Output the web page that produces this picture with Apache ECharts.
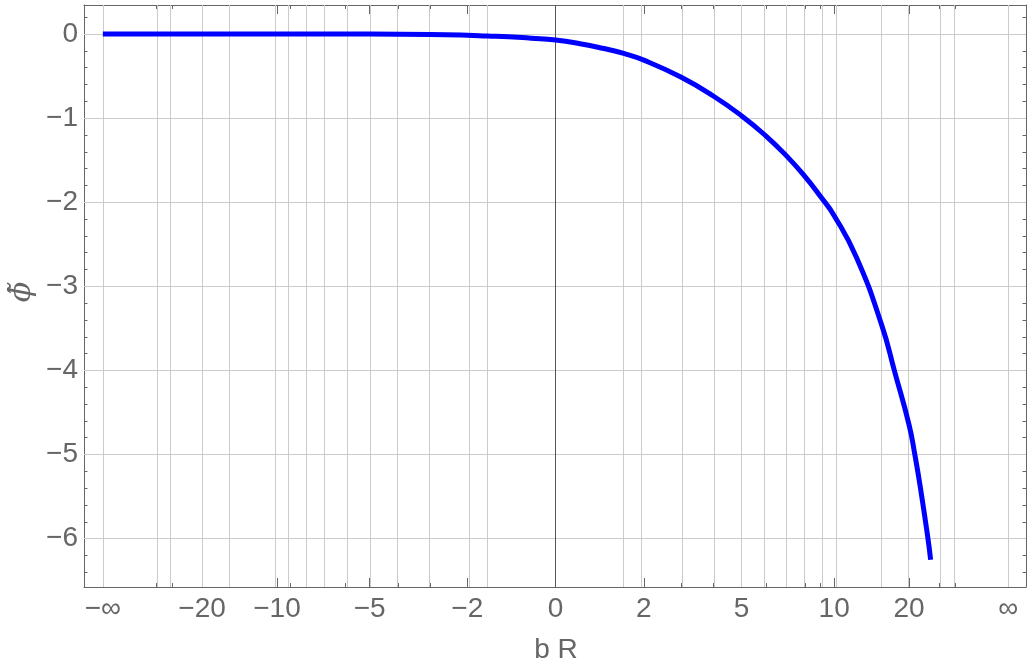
<!DOCTYPE html>
<html><head><meta charset="utf-8">
<script src="https://cdn.jsdelivr.net/npm/echarts@6/dist/echarts.min.js"></script>
<style>html,body{margin:0;padding:0;background:#fff}#c{width:1027px;height:666px}</style>
</head><body><div id="c"></div>
<script>
// ---- data (bR on a compactified axis, phi-tilde values) ----
const bR  = [-Infinity, -40, -20, -10, -5, -3, -2, -1.5, -1, -0.5, 0, 0.5, 1, 1.5, 2, 3, 4, 5, 6, 7, 8, 9, 10, 12, 15, 17.1, 20, 21.4, 23, 25.37, 26.34];
const phi = [0, 0, 0, 0, -0.001, -0.006, -0.015, -0.024, -0.033, -0.049, -0.071, -0.115, -0.169, -0.231, -0.311, -0.512, -0.737, -0.971, -1.21, -1.452, -1.692, -1.932, -2.16, -2.66, -3.455, -4.02, -4.65, -5.0, -5.41, -6.0, -6.25];

const xMajorTicks  = [-Infinity, -20, -10, -5, -2, 0, 2, 5, 10, 20, Infinity];
const xMajorLabels = ['−∞', '−20', '−10', '−5', '−2', '0', '2', '5', '10', '20', '∞'];
const xMinorTicks  = [-40, -30, -15, -9, -8, -7, -6, -4, -3, -1.5, 1.5, 3, 4, 6, 7, 8, 9, 15, 30, 40];
const yMajorTicks  = [-6, -5, -4, -3, -2, -1, 0];
const yMajorLabels = ['−6', '−5', '−4', '−3', '−2', '−1', '0'];
const yMinorTicks  = [-6.4, -6.2, -5.8, -5.6, -5.4, -5.2, -4.8, -4.6, -4.4, -4.2, -3.8, -3.6, -3.4, -3.2, -2.8, -2.6, -2.4, -2.2, -1.8, -1.6, -1.4, -1.2, -0.8, -0.6, -0.4, -0.2, 0.2];

// compactifying scale for the x axis
const A = 0.1642, P = 0.9455;
function T(x) {
  if (x === Infinity) return 1;
  if (x === -Infinity) return -1;
  return Math.sign(x) * 2 / Math.PI * Math.atan(A * Math.pow(Math.abs(x), P));
}
const xMajorPos = xMajorTicks.map(T);
const xMinorPos = xMinorTicks.map(T);

const FONT = 'Liberation Sans, Arial, sans-serif';
const GRAY = '#666666';
const GRID = '#cbcbcb';
const XMIN = -1.0416, XMAX = 1.039, YMIN = -6.575, YMAX = 0.345;

function xLabel(v) {
  for (let i = 0; i < xMajorPos.length; i++) if (Math.abs(xMajorPos[i] - v) < 1e-6) return xMajorLabels[i];
  return '';
}
function yLabel(v) {
  for (let i = 0; i < yMajorTicks.length; i++) if (Math.abs(yMajorTicks[i] - v) < 1e-6) return yMajorLabels[i];
  return '';
}

function xAx(pos, major, withLine, withLabel) {
  return {
    type: 'value', min: XMIN, max: XMAX, position: pos,
    splitLine: { show: false },
    axisLine: { show: withLine, onZero: false, lineStyle: { color: GRAY, width: 1 } },
    axisTick: { show: true, inside: true, length: major ? 9 : 4, lineStyle: { color: GRAY, width: 1 },
                customValues: major ? xMajorPos : xMinorPos },
    axisLabel: withLabel ? { show: true, customValues: xMajorPos, formatter: xLabel, fontSize: 28,
                             color: GRAY, fontFamily: FONT, margin: 8 } : { show: false },
    axisPointer: { show: false }
  };
}
function yAx(pos, major, withLine, withLabel) {
  return {
    type: 'value', min: YMIN, max: YMAX, position: pos,
    splitLine: { show: false },
    axisLine: { show: withLine, onZero: false, lineStyle: { color: GRAY, width: 1 } },
    axisTick: { show: true, inside: true, length: major ? 6 : 3.5, lineStyle: { color: GRAY, width: 1 },
                customValues: major ? yMajorTicks : yMinorTicks },
    axisLabel: withLabel ? { show: true, customValues: yMajorTicks, formatter: yLabel, fontSize: 28,
                             color: GRAY, fontFamily: FONT, margin: 6 } : { show: false }
  };
}

const gridLines = [];
xMajorPos.concat(xMinorPos).forEach(v => {
  if (Math.abs(v) < 1e-9) return;
  gridLines.push({ xAxis: v });
});
yMajorTicks.forEach(v => gridLines.push({ yAxis: v }));
gridLines.push({ xAxis: 0, lineStyle: { color: '#555555', width: 1 } });

const chart = echarts.init(document.getElementById('c'), null, { renderer: 'canvas' });
chart.setOption({
  animation: false,
  backgroundColor: '#ffffff',
  grid: { left: 84, right: 1, top: 5, bottom: 79, containLabel: false, outerBoundsMode: 'none' },
  xAxis: [xAx('bottom', true, true, true), xAx('bottom', false, false, false),
          xAx('top', true, true, false), xAx('top', false, false, false)],
  yAxis: [yAx('left', true, true, true), yAx('left', false, false, false),
          yAx('right', true, true, false), yAx('right', false, false, false)],
  graphic: [
    { type: 'text', x: 556, y: 650, silent: true,
      style: { text: 'b R', font: '28px ' + FONT, fill: GRAY, align: 'center', verticalAlign: 'middle' } },
    { type: 'text', x: 22, y: 292, rotation: Math.PI / 2, silent: true,
      style: { text: 'ϕ̃', font: 'italic 30px DejaVu Serif, serif', fill: GRAY, align: 'center', verticalAlign: 'middle' } }
  ],
  series: [
    { type: 'line', data: [], z: 1, silent: true,
      markLine: { silent: true, symbol: ['none', 'none'], label: { show: false },
                  lineStyle: { color: GRID, width: 1, type: 'solid' }, emphasis: { disabled: true },
                  data: gridLines } },
    { type: 'line', z: 5, xAxisIndex: 0, yAxisIndex: 0, showSymbol: false, symbol: 'none',
      smooth: 0.5,
      lineStyle: { color: '#0000ff', width: 5 },
      data: bR.map((x, i) => [T(x), phi[i]]) }
  ]
});
</script>
</body></html>
